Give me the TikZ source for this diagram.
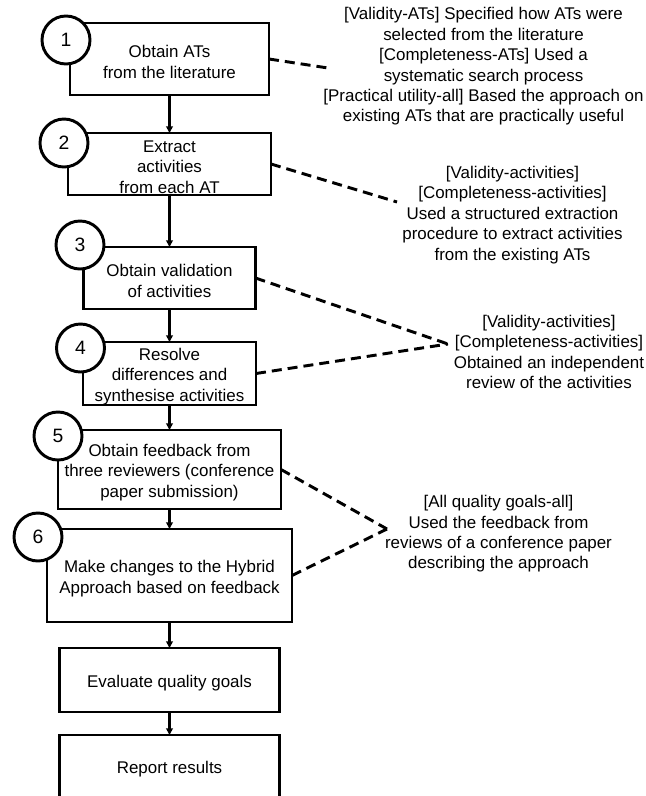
\documentclass[tikz,border=0pt]{standalone}
\usepackage{fontspec}
\setmainfont{Liberation Sans}
\usetikzlibrary{arrows.meta}
\newcommand\topstrut{\rule{0pt}{13.6pt}}
\begin{document}
\begin{tikzpicture}[x=0.75pt,y=-0.75pt,
  stepbox/.style={draw, line width=2.2pt, inner sep=0pt, outer sep=0pt, align=center, font=\fontsize{12.7}{15.3}\selectfont},
  numcirc/.style={draw, circle, fill=white, line width=2.2pt, minimum size=48*0.75pt, inner sep=0pt, font=\fontsize{14.5}{16}\selectfont},
  flow/.style={line width=1.8pt, -{Triangle[width=5pt,length=5pt]}},
  link/.style={line width=2.2pt, dash pattern=on 7.5pt off 4.5pt},
  note/.style={align=center, inner sep=0pt, font=\fontsize{12.7}{15.3}\selectfont}]
\useasboundingbox (0,0) rectangle (646,796);
% boxes
\node[stepbox, minimum width=199*0.75pt, minimum height=72*0.75pt] (b1) at (169.5,59) {\topstrut Obtain ATs\\from the literature};
\node[stepbox, minimum width=203*0.75pt, minimum height=62*0.75pt] (b2) at (169.5,164) {\topstrut Extract\\activities\\from each AT};
\node[stepbox, minimum width=172*0.75pt, minimum height=62*0.75pt] (b3) at (169.5,278) {\topstrut Obtain validation\\of activities};
\node[stepbox, minimum width=173*0.75pt, minimum height=63*0.75pt] (b4) at (169.5,373.5) {\topstrut Resolve\\differences and\\synthesise activities};
\node[stepbox, minimum width=223*0.75pt, minimum height=79*0.75pt] (b5) at (169.5,469.5) {\topstrut Obtain feedback from\\three reviewers (conference\\paper submission)};
\node[stepbox, minimum width=245*0.75pt, minimum height=93*0.75pt] (b6) at (169.5,575.5) {\topstrut Make changes to the Hybrid\\Approach based on feedback};
\node[stepbox, minimum width=220*0.75pt, minimum height=64*0.75pt] (b7) at (169.5,680) {\topstrut Evaluate quality goals};
\node[stepbox, minimum width=220*0.75pt, minimum height=64*0.75pt] (b8) at (169.5,767) {\rule{0pt}{12pt}Report results};
% flow arrows
\draw[flow] (b1.south) -- (b2.north);
\draw[flow] (b2.south) -- (b3.north);
\draw[flow] (b3.south) -- (b4.north);
\draw[flow] (b4.south) -- (b5.north);
\draw[flow] (b5.south) -- (b6.north);
\draw[flow] (b6.south) -- (b7.north);
\draw[flow] (b7.south) -- (b8.north);
% number circles
\node[numcirc] (c1) at (66,40) {1};
\node[numcirc] (c2) at (64,143) {2};
\node[numcirc] (c3) at (80,245) {3};
\node[numcirc] (c4) at (80.5,348) {4};
\node[numcirc] (c5) at (58,436) {5};
\node[numcirc] (c6) at (38,537) {6};
% notes
\node[note] (n1) at (483.5,66.5) {{[Validity-ATs]} Specified how ATs were\\selected from the literature\\{[Completeness-ATs]} Used a\\systematic search process\\{[Practical utility-all]} Based the approach on\\existing ATs that are practically useful};
\node[note] (n2) at (512.5,215) {{[Validity-activities]}\\{[Completeness-activities]}\\Used a structured extraction\\procedure to extract activities\\from the existing ATs};
\node[note] (n3) at (549,352) {{[Validity-activities]}\\{[Completeness-activities]}\\Obtained an independent\\review of the activities};
\node[note] (n4) at (498.5,534) {{[All quality goals-all]}\\Used the feedback from\\reviews of a conference paper\\describing the approach};
% dashed links
\coordinate (e1) at (328,68);
\coordinate (e2) at (397,202);
\coordinate (e34) at (448,344);
\coordinate (e56) at (387,529);
\draw[link] (b1.east) -- (e1);
\draw[link] (b2.east) -- (e2);
\draw[link] (b3.east) -- (e34);
\draw[link] (b4.east) -- (e34);
\draw[link] (b5.east) -- (e56);
\draw[link] (b6.east) -- (e56);
\end{tikzpicture}
\end{document}
